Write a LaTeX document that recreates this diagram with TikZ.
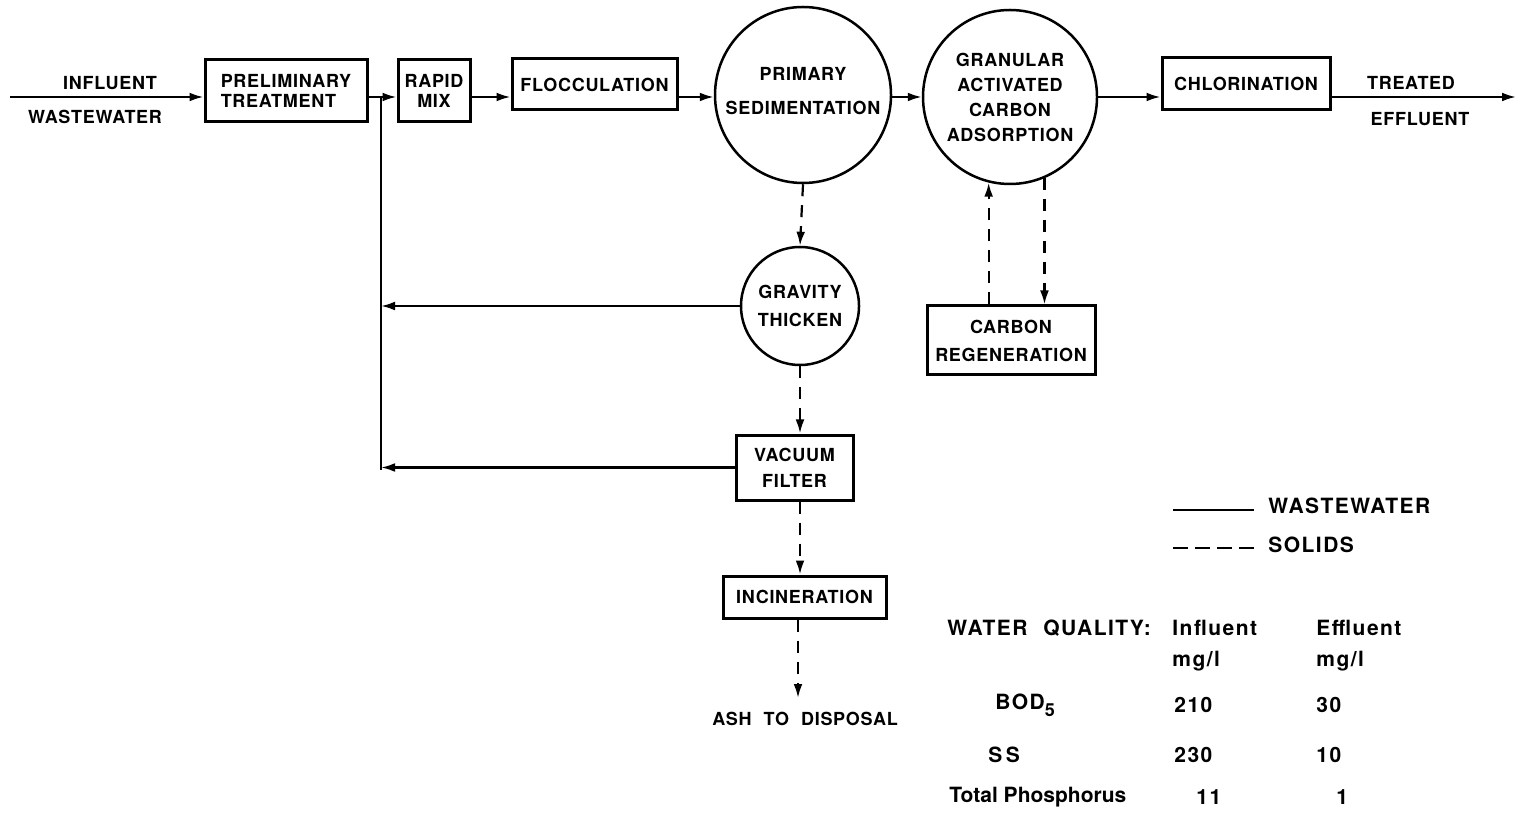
\documentclass[tikz,border=0pt]{standalone}
\usepackage{fontspec}
\setmainfont{TeX Gyre Heros}
\newfontfamily\lett{TeX Gyre Heros}[LetterSpace=4]
\newfontfamily\lettw{TeX Gyre Heros}[LetterSpace=7]
\newfontfamily\tabf{TeX Gyre Heros}[LetterSpace=7]
\usetikzlibrary{arrows.meta}

\begin{document}
\begin{tikzpicture}[x=0.5pt,y=-0.5pt,
  ls/.style={font=\lett\bfseries\fontsize{9}{#1}\selectfont},
  ls/.default=10pt,
  box/.style={draw, line width=1.5pt, inner sep=0pt, align=center, ls},
  tank/.style={draw, circle, line width=1.25pt, inner sep=0pt, align=center, ls},
  flow/.style={line width=1.1pt, -{Latex[length=7pt,width=4.4pt]}},
  solids/.style={flow, dash pattern=on 6pt off 4.5pt},
  pipe/.style={line width=1.1pt},
  lbl/.style={inner sep=0pt, align=center, ls},
  big/.style={inner sep=0pt, anchor=west, font=\lettw\bfseries\fontsize{10.5}{12}\selectfont},
  tab/.style={inner sep=0pt, anchor=west, font=\tabf\bfseries\fontsize{10.5}{12}\selectfont}
]
\useasboundingbox (0,0) rectangle (1518,817);

% main line level and recycle header
\coordinate (main) at (0,97);
\coordinate (src) at (10,97);
\coordinate (out) at (1516,97);
\coordinate (rtop) at (381,97);

% process units
\node[box, minimum width=81pt, minimum height=31pt, align=left] (prelim) at (286,91) {PRELIMINARY\\TREATMENT};
\node[box, minimum width=36pt, minimum height=31pt] (rapid) at (434,91) {RAPID\\MIX};
\node[box, minimum width=82.5pt, minimum height=25.5pt] (floc) at (594.5,84.5) {FLOCCULATION};
\node[tank, minimum size=88pt, ls=17pt] (prim) at (803,95) {PRIMARY\\SEDIMENTATION\\[-13pt]\mbox{}};
\node[tank, minimum size=87pt, ls=12.5pt] (gac) at (1010,97) {GRANULAR\\ACTIVATED\\CARBON\\ADSORPTION};
\node[box, minimum width=84pt, minimum height=26pt] (chlor) at (1246,84) {CHLORINATION};
\node[tank, minimum size=59pt, ls=14pt] (grav) at (800,306) {GRAVITY\\THICKEN};
\node[box, minimum width=58.5pt, minimum height=32.5pt, ls=13pt] (vac) at (794.5,467.5) {VACUUM\\FILTER};
\node[box, minimum width=84pt, minimum height=34.5pt, ls=14pt] (regen) at (1011,340.5) {CARBON\\REGENERATION};
\node[box, minimum width=81.5pt, minimum height=21pt] (inc) at (804.5,597) {INCINERATION};

% stream labels
\node[lbl] (inlbl) at (110,83) {INFLUENT};
\node[lbl] (inlbl2) at (95,117) {WASTEWATER};
\node[lbl] (outlbl) at (1411,83) {TREATED};
\node[lbl] (outlbl2) at (1420,119) {EFFLUENT};
\coordinate (ash) at (798,698);
\node[lbl] (ashlbl) at (805,719) {ASH\hspace{6pt}TO\hspace{6pt}DISPOSAL};

% wastewater flow
\draw[flow] (src) -- (prelim.west |- main);
\draw[flow] (prelim.east |- main) -- (rapid.west |- main);
\draw[flow] (rapid.east |- main) -- (floc.west |- main);
\draw[flow] (floc.east |- main) -- (prim.west |- main);
\draw[flow] (prim.east |- main) -- (gac.west |- main);
\draw[flow] (gac.east |- main) -- (chlor.west |- main);
\draw[flow] (chlor.east |- main) -- (out);

% recycle streams
\draw[pipe] (rtop) -- ([yshift=-1pt]rtop |- vac.west);
\draw[flow] (grav.west) -- (grav.west -| rtop);
\draw[flow] (vac.west) -- (vac.west -| rtop);

% solids handling
\draw[solids] (prim.south) -- (grav.north);
\draw[solids] (grav.south) -- (vac.north -| grav.south);
\draw[solids] (vac.south -| grav.south) -- (inc.north -| grav.south);
\draw[solids] (inc.south -| ash) -- (ash);
\draw[solids] (regen.north -| gac.256) -- (gac.256);
\draw[solids] (gac.293) -- (gac.293 |- regen.north);

% legend
\coordinate (l1a) at (1173,510);
\coordinate (l1b) at (1254,510);
\coordinate (l2a) at (1173,548);
\coordinate (l2b) at (1255,548);
\draw[pipe] (l1a) -- (l1b);
\draw[pipe, dash pattern=on 7.5pt off 3.5pt] (l2a) -- (l2b);
\node[big] (legw) at (1268,506) {WASTEWATER};
\node[big] (legs) at (1268,545) {SOLIDS};

% water quality table
\node[big] (wq) at (947,628) {WATER\hspace{8pt}QUALITY:};
\node[tab] (hin) at (1172,628) {Influent};
\node[tab] (hef) at (1316,628) {Effluent};
\node[tab] (uin) at (1172,661) {mg/l};
\node[tab] (uef) at (1316,661) {mg/l};
\node[big] (bod) at (995,705) {BOD\raisebox{-3.5pt}{\fontsize{9}{10}\selectfont 5}};
\node[tab] (bodi) at (1174,705) {210};
\node[tab] (bode) at (1316,705) {30};
\node[big] (ss) at (988,755) {S\,S};
\node[tab] (ssi) at (1174,755) {230};
\node[tab] (sse) at (1316,755) {10};
\node[inner sep=0pt, anchor=west, font=\bfseries\fontsize{10.5}{12}\selectfont] (tp) at (949,797) {Total Phosphorus};
\node[tab] (tpi) at (1196,797) {11};
\node[tab] (tpe) at (1336,797) {1};
\end{tikzpicture}
\end{document}
